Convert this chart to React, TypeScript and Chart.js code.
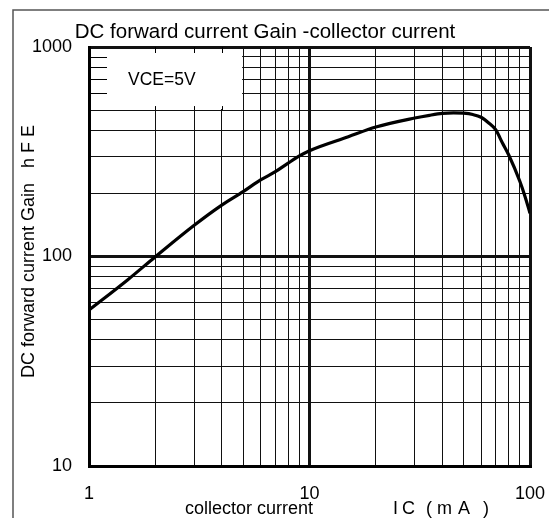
import React, { useEffect, useRef } from "react";
import { Chart, registerables } from "chart.js";

Chart.register(...registerables);

// Data (IC in mA, hFE)
const collectorCurrent = [1, 1.5, 2, 3, 4, 5, 6, 7, 8, 9, 10, 15, 20, 30, 35, 40, 45, 50, 55, 60, 65, 70, 75, 80, 90, 95, 100];
const hfeValues = [55.5, 77.5, 99.8, 141, 176, 204, 232, 254, 279, 302, 320, 373, 415, 458, 472, 482, 485, 483, 476, 462, 434, 402, 348, 306, 228, 193, 161];

const xTickValues = [1, 10, 100];
const xTickLabels = ["1", "10", "100"];
const yTickValues = [10, 100, 1000];
const yTickLabels = ["10", "100", "1000"];

const titleText = "DC forward current Gain -collector current";
const xTitleText = "collector current";
const xTitleUnit = "IC(mA)";
const yTitleText = "DC forward current Gain   h F E";
const conditionText = "VCE=5V";

const FONT = "'Liberation Sans', Arial, sans-serif";

const isDecade = (v: number) => {
  const l = Math.log10(v);
  return Math.abs(l - Math.round(l)) < 1e-9;
};

const logGrid = (min: number, max: number) => {
  const out: { value: number }[] = [];
  for (let d = min; d < max; d *= 10) {
    for (let k = 1; k <= 9; k++) out.push({ value: k * d });
  }
  out.push({ value: max });
  return out;
};

// horizontal offsets of the spaced unit characters
const unitOffsets = [0, 9, 33, 44, 65, 90];

const decorPlugin = {
  id: "decor",
  beforeDraw(chart: any) {
    const ctx = chart.ctx;
    ctx.save();
    ctx.fillStyle = "#fff";
    ctx.fillRect(0, 0, chart.width, chart.height);
    ctx.strokeStyle = "#555";
    ctx.lineWidth = 1.5;
    ctx.beginPath();
    ctx.moveTo(13, chart.height + 2);
    ctx.lineTo(13, 10);
    ctx.lineTo(chart.width + 2, 10);
    ctx.stroke();
    ctx.restore();
  },
  beforeDatasetsDraw(chart: any) {
    const ctx = chart.ctx;
    const xs = chart.scales.x;
    const ys = chart.scales.y;
    const xL = xs.getPixelForValue(1);
    const x5 = xs.getPixelForValue(5);
    const yT = ys.getPixelForValue(1000);
    const y5 = ys.getPixelForValue(500);
    ctx.save();
    ctx.fillStyle = "#fff";
    ctx.fillRect(xL + 2, yT + 2, x5 - 1 - (xL + 2), y5 - 1 - (yT + 2));
    ctx.strokeStyle = "#000";
    ctx.lineWidth = 1;
    ctx.beginPath();
    [600, 700, 800, 900].forEach((v) => {
      const y = Math.round(ys.getPixelForValue(v)) + 0.5;
      ctx.moveTo(xL, y);
      ctx.lineTo(xL + 18, y);
    });
    [2, 3, 4].forEach((v) => {
      const x = Math.round(xs.getPixelForValue(v)) + 0.5;
      ctx.moveTo(x, yT);
      ctx.lineTo(x, yT + 6);
      ctx.moveTo(x, y5);
      ctx.lineTo(x, y5 - 4);
    });
    ctx.stroke();
    ctx.restore();
  },
  afterDraw(chart: any) {
    const ctx = chart.ctx;
    const xs = chart.scales.x;
    const ys = chart.scales.y;
    ctx.save();
    ctx.fillStyle = "#000";
    // title
    ctx.font = `20.5px ${FONT}`;
    ctx.textAlign = "center";
    ctx.textBaseline = "alphabetic";
    ctx.fillText(titleText, 265, 37.5);
    // condition
    ctx.font = `17.5px ${FONT}`;
    ctx.textAlign = "left";
    ctx.textBaseline = "middle";
    ctx.fillText(conditionText, 128, 80);
    // y tick labels
    ctx.font = `18px ${FONT}`;
    ctx.textAlign = "right";
    ctx.textBaseline = "middle";
    yTickValues.forEach((v, i) => {
      ctx.fillText(yTickLabels[i], 72, ys.getPixelForValue(v));
    });
    // x tick labels
    ctx.textAlign = "center";
    xTickValues.forEach((v, i) => {
      ctx.fillText(xTickLabels[i], xs.getPixelForValue(v), 494);
    });
    // x title
    ctx.textAlign = "left";
    ctx.textBaseline = "alphabetic";
    ctx.fillText(xTitleText, 185, 514);
    xTitleUnit.split("").forEach((ch, i) => {
      ctx.fillText(ch, 393 + unitOffsets[i], 514);
    });
    // y title
    ctx.translate(34, 378);
    ctx.rotate(-Math.PI / 2);
    ctx.textAlign = "left";
    ctx.textBaseline = "alphabetic";
    ctx.fillText(yTitleText, 0, 0);
    ctx.restore();
  },
};

export default function App() {
  const ref = useRef<HTMLCanvasElement | null>(null);
  useEffect(() => {
    if (!ref.current) return;
    const chart = new Chart(ref.current, {
      type: "line",
      data: {
        datasets: [
          {
            data: collectorCurrent.map((x, i) => ({ x, y: hfeValues[i] })),
            borderColor: "#000",
            borderWidth: 3.2,
            pointRadius: 0,
            cubicInterpolationMode: "monotone",
            fill: false,
          },
        ],
      },
      options: {
        animation: false,
        responsive: false,
        devicePixelRatio: 1,
        layout: { padding: { left: 89, top: 47, right: 19, bottom: 52 } },
        plugins: { legend: { display: false }, tooltip: { enabled: false }, title: { display: false } },
        scales: {
          x: {
            type: "logarithmic",
            min: 1,
            max: 100,
            afterBuildTicks: (s: any) => {
              s.ticks = logGrid(1, 100);
            },
            ticks: { display: false },
            grid: {
              drawTicks: false,
              color: "#111",
              lineWidth: (c: any) => (c.tick && isDecade(c.tick.value) ? 3 : 1),
            },
            border: { display: true, width: 3, color: "#000" },
          },
          y: {
            type: "logarithmic",
            min: 10,
            max: 1000,
            afterBuildTicks: (s: any) => {
              s.ticks = logGrid(10, 1000);
            },
            ticks: { display: false },
            grid: {
              drawTicks: false,
              color: "#111",
              lineWidth: (c: any) => (c.tick && isDecade(c.tick.value) ? 3 : 1),
            },
            border: { display: true, width: 3, color: "#000" },
          },
        },
      },
      plugins: [decorPlugin],
    });
    return () => chart.destroy();
  }, []);
  return (
    <div style={{ position: "absolute", left: 0, top: 0, width: 549, height: 518 }}>
      <canvas ref={ref} width={549} height={518} style={{ display: "block" }} />
    </div>
  );
}
